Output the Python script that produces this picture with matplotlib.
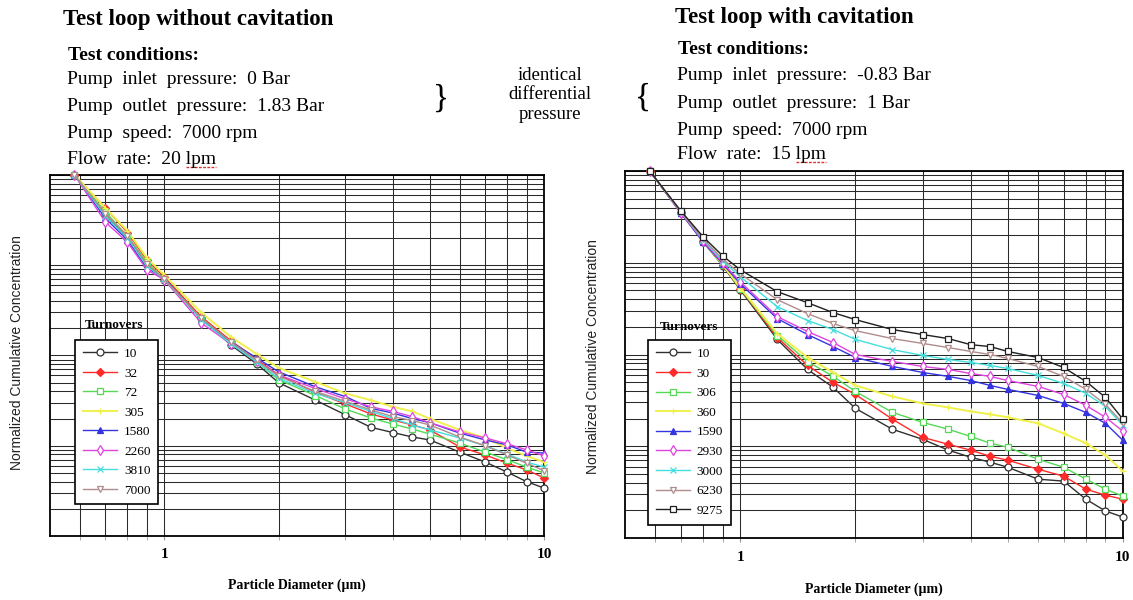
import matplotlib.pyplot as plt
from matplotlib.ticker import FixedLocator, FixedFormatter, LogLocator, NullFormatter
from matplotlib.lines import Line2D

plt.rcParams['font.family'] = ['Liberation Serif', 'DejaVu Serif']

# particle size channels (um)
diameter = [0.58, 0.7, 0.8, 0.9, 1, 1.25, 1.5, 1.75, 2, 2.5, 3, 3.5, 4, 4.5, 5, 6, 7, 8, 9, 10]

# test loop without cavitation
turnovers_a = ['10', '32', '72', '305', '1580', '2260', '3810', '7000']
conc_a = [
    [1, 0.36, 0.20, 0.10, 0.069, 0.026, 0.013, 0.0081, 0.0050, 0.0032, 0.0022, 0.0016, 0.0014, 0.00125, 0.00116, 0.00085, 0.00066, 0.00051, 0.00040, 0.00034],
    [1, 0.43, 0.23, 0.114, 0.074, 0.027, 0.0145, 0.0091, 0.0061, 0.0039, 0.0029, 0.00225, 0.00193, 0.0017, 0.0015, 0.00097, 0.00079, 0.00064, 0.00054, 0.00044],
    [1, 0.39, 0.21, 0.109, 0.070, 0.026, 0.0138, 0.0085, 0.0054, 0.0036, 0.00255, 0.00203, 0.00174, 0.00153, 0.00135, 0.00107, 0.00085, 0.00070, 0.00058, 0.00050],
    [1, 0.43, 0.24, 0.12, 0.078, 0.030, 0.016, 0.0104, 0.0073, 0.0051, 0.0038, 0.0032, 0.0027, 0.0024, 0.0020, 0.0015, 0.00122, 0.00094, 0.00077, 0.00066],
    [1, 0.33, 0.19, 0.093, 0.072, 0.025, 0.0141, 0.0094, 0.0066, 0.0045, 0.0035, 0.0026, 0.0023, 0.0020, 0.0018, 0.00138, 0.00116, 0.00102, 0.00085, 0.00083],
    [1, 0.30, 0.18, 0.089, 0.069, 0.023, 0.0134, 0.0087, 0.0061, 0.0043, 0.0033, 0.0027, 0.0024, 0.0021, 0.0018, 0.00142, 0.00122, 0.00105, 0.00090, 0.00077],
    [1, 0.35, 0.20, 0.098, 0.070, 0.025, 0.0134, 0.0085, 0.0056, 0.0038, 0.0030, 0.0024, 0.0020, 0.0017, 0.0015, 0.00122, 0.00100, 0.00081, 0.00066, 0.00058],
    [1, 0.37, 0.21, 0.103, 0.070, 0.026, 0.0141, 0.0089, 0.0059, 0.0040, 0.0031, 0.0025, 0.0021, 0.0019, 0.0017, 0.00125, 0.00100, 0.00079, 0.00064, 0.00053],
]

# test loop with cavitation
turnovers_b = ['10', '30', '306', '360', '1590', '2930', '3000', '6230', '9275']
conc_b = [
    [1, 0.349, 0.169, 0.0928, 0.0509, 0.0146, 0.00687, 0.00438, 0.00259, 0.00153, 0.00119, 0.000906, 0.000759, 0.000670, 0.000591, 0.000438, 0.000417, 0.000265, 0.000197, 0.000169],
    [1, 0.358, 0.173, 0.0951, 0.0522, 0.0153, 0.00759, 0.00496, 0.00367, 0.00197, 0.00125, 0.00105, 0.000906, 0.000778, 0.000705, 0.000562, 0.000472, 0.000341, 0.000293, 0.000265],
    [1, 0.358, 0.173, 0.0951, 0.0522, 0.0161, 0.00839, 0.00577, 0.00396, 0.00234, 0.00182, 0.00153, 0.00128, 0.00108, 0.000976, 0.000722, 0.000591, 0.000438, 0.000341, 0.000286],
    [1, 0.358, 0.173, 0.0951, 0.0535, 0.0169, 0.00927, 0.00637, 0.00460, 0.00349, 0.00293, 0.00265, 0.00240, 0.00223, 0.00207, 0.00178, 0.00138, 0.00108, 0.000798, 0.000535],
    [1, 0.349, 0.169, 0.0976, 0.0591, 0.0246, 0.0165, 0.0122, 0.00927, 0.00741, 0.00637, 0.00577, 0.00521, 0.00460, 0.00417, 0.00358, 0.00293, 0.00234, 0.00178, 0.00116],
    [1, 0.349, 0.173, 0.100, 0.0621, 0.0259, 0.0178, 0.0135, 0.0100, 0.00839, 0.00741, 0.00687, 0.00621, 0.00577, 0.00521, 0.00449, 0.00367, 0.00279, 0.00207, 0.00146],
    [1, 0.358, 0.178, 0.105, 0.0705, 0.0332, 0.0234, 0.0187, 0.0146, 0.0113, 0.00976, 0.00883, 0.00819, 0.00759, 0.00704, 0.00591, 0.00484, 0.00377, 0.00272, 0.00169],
    [1, 0.358, 0.182, 0.110, 0.0759, 0.0396, 0.0279, 0.0217, 0.0182, 0.0149, 0.0132, 0.0119, 0.0108, 0.0100, 0.00905, 0.00741, 0.00577, 0.00417, 0.00286, 0.00178],
    [1, 0.367, 0.192, 0.119, 0.084, 0.0484, 0.0367, 0.0286, 0.0240, 0.0187, 0.0165, 0.0149, 0.0128, 0.0122, 0.0108, 0.00927, 0.00722, 0.00509, 0.00341, 0.00197],
]

styles = [
    dict(color='#303030', marker='o', mfc='white'),
    dict(color='#ff2a2a', marker='D', mfc='#ff2a2a', ms=4),
    dict(color='#55d855', marker='s', mfc='white'),
    dict(color='#f0f04a', marker='+', lw=1.4),
    dict(color='#3434e0', marker='^', mfc='#3434e0'),
    dict(color='#e044e0', marker='d', mfc='white'),
    dict(color='#44dede', marker='x', ms=4),
    dict(color='#b08c8c', marker='v', mfc='white'),
    dict(color='#202020', marker='s', mfc='white'),
]

fig = plt.figure(figsize=(11.33, 6), dpi=100)
ax_a = fig.add_axes([0.0441, 0.1067, 0.436, 0.6017])
ax_b = fig.add_axes([0.5516, 0.1033, 0.4395, 0.6117])


def draw_panel(ax, names, series, leg_anchor, title_pos, lab_spacing, xpad):
    for i, (name, vals) in enumerate(zip(names, series)):
        st = dict(ms=5, mew=0.9, lw=1.0)
        st.update(styles[i])
        ax.plot(diameter, vals, label=name, clip_on=False, zorder=3, **st)
    ax.set_xscale('log')
    ax.set_yscale('log')
    ax.set_xlim(0.5, 10)
    ax.set_ylim(1e-4, 1)
    ax.xaxis.set_major_locator(FixedLocator([1, 10]))
    ax.xaxis.set_major_formatter(FixedFormatter(['1', '10']))
    ax.xaxis.set_minor_locator(FixedLocator([0.6, 0.7, 0.8, 0.9, 2, 3, 4, 5, 6, 7, 8, 9]))
    ax.xaxis.set_minor_formatter(NullFormatter())
    ax.yaxis.set_major_locator(LogLocator(base=10))
    ax.yaxis.set_minor_locator(LogLocator(base=10, subs=range(2, 10), numticks=20))
    ax.yaxis.set_major_formatter(NullFormatter())
    ax.yaxis.set_minor_formatter(NullFormatter())
    ax.grid(which='both', color='#2a2a2a', lw=0.75)
    ax.tick_params(axis='y', which='both', length=0)
    ax.tick_params(axis='x', which='both', direction='out', length=3, color='#999999',
                   labelsize=11, pad=6)
    for lab in ax.get_xticklabels():
        lab.set_fontweight('bold')
    for sp in ax.spines.values():
        sp.set_linewidth(1.3)
    ax.set_xlabel('Particle Diameter (\u00b5m)', fontsize=10, fontweight='bold', labelpad=xpad)
    leg = ax.legend(loc='upper left', bbox_to_anchor=leg_anchor, borderaxespad=0,
                    fancybox=False, edgecolor='black', framealpha=1, fontsize=9.5,
                    handlelength=2.6, handletextpad=0.5, labelspacing=lab_spacing,
                    borderpad=0.6)
    leg.get_frame().set_linewidth(1.2)
    leg.set_zorder(5)
    ax.text(title_pos[0], title_pos[1], 'Turnovers', transform=ax.transAxes,
            fontsize=9.5, fontweight='bold', va='center', ha='left', zorder=6)


draw_panel(ax_a, turnovers_a, conc_a, (0.051, 0.543), (0.071, 0.584), 0.55, 12)
draw_panel(ax_b, turnovers_b, conc_b, (0.046, 0.54), (0.07, 0.575), 0.56, 14)

# y axis titles
for x, y in [(0.015, 0.412), (0.523, 0.405)]:
    fig.text(x, y, 'Normalized Cumulative Concentration', rotation=90,
             family=['Liberation Sans', 'DejaVu Sans'], fontsize=10, ha='center', va='center',
             color='#222222')

# test condition headers
fig.text(0.0556, 0.967, 'Test loop without cavitation', fontsize=16.5, fontweight='bold', va='center')
fig.text(0.596, 0.97, 'Test loop with cavitation', fontsize=16.5, fontweight='bold', va='center')
fig.text(0.060, 0.907, 'Test conditions:', fontsize=14, fontweight='bold', va='center')
fig.text(0.598, 0.917, 'Test conditions:', fontsize=14, fontweight='bold', va='center')

cond_a = ['Pump  inlet  pressure:  0 Bar', 'Pump  outlet  pressure:  1.83 Bar',
          'Pump  speed:  7000 rpm', 'Flow  rate:  20 lpm']
cond_b = ['Pump  inlet  pressure:  -0.83 Bar', 'Pump  outlet  pressure:  1 Bar',
          'Pump  speed:  7000 rpm', 'Flow  rate:  15 lpm']
ys_a = [0.868, 0.822, 0.778, 0.735]
ys_b = [0.875, 0.828, 0.783, 0.742]
cond_size = 14
flow_texts = []
for s, y in zip(cond_a, ys_a):
    flow_texts.append(fig.text(0.059, y, s, fontsize=cond_size, va='center'))
for s, y in zip(cond_b, ys_b):
    flow_texts.append(fig.text(0.5975, y, s, fontsize=cond_size, va='center'))

fig.text(0.4854, 0.842, 'identical\ndifferential\npressure', fontsize=13.5, ha='center',
         va='center', linespacing=1.2)
fig.text(0.389, 0.835, '}', fontsize=24, ha='center', va='center')
fig.text(0.5675, 0.838, '{', fontsize=24, ha='center', va='center')

# red spell-check underline under "lpm"
fig.canvas.draw()
renderer = fig.canvas.get_renderer()
probe = fig.text(0, 0, 'lpm', fontsize=cond_size)
w_lpm = probe.get_window_extent(renderer).width
probe.remove()
for t in (flow_texts[3], flow_texts[7]):
    bb = t.get_window_extent(renderer)
    x1 = bb.x1 / fig.bbox.width
    x0 = (bb.x1 - w_lpm) / fig.bbox.width
    yy = (bb.y0 + 1) / fig.bbox.height
    fig.add_artist(Line2D([x0, x1], [yy, yy], transform=fig.transFigure,
                          color='#e03030', lw=1.0, ls=(0, (2, 1))))

fig.savefig('out.png', dpi=100)
